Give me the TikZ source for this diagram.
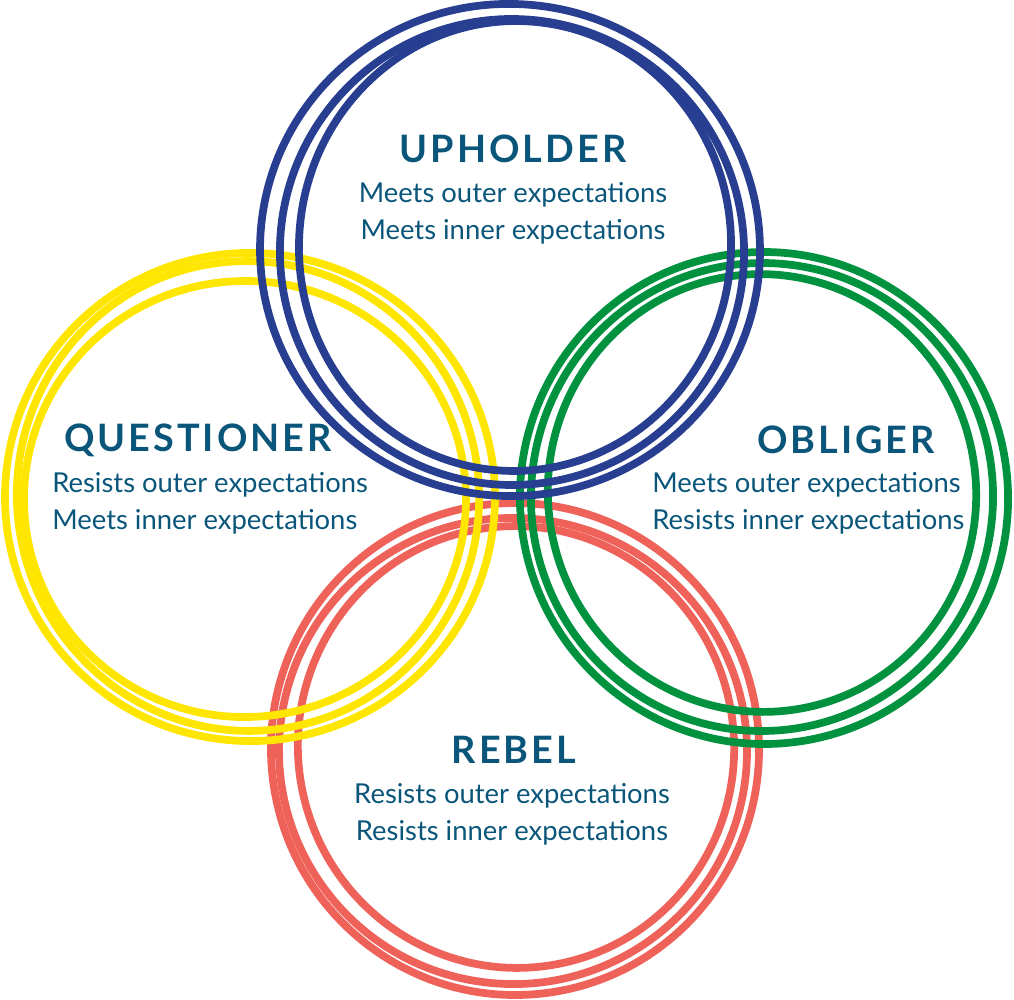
\documentclass[tikz,border=0pt]{standalone}
\usepackage{fontspec}
\setmainfont{Lato}
\usepackage{tikz}
\definecolor{ringblue}{RGB}{39, 62, 145}
\definecolor{ringyellow}{RGB}{255, 230, 0}
\definecolor{ringgreen}{RGB}{0, 146, 63}
\definecolor{ringred}{RGB}{238, 98, 90}
\definecolor{typeblue}{RGB}{10, 85, 122}
\usetikzlibrary{positioning}

\begin{document}
\begin{tikzpicture}[x=0.02cm, y=-0.02cm,
					ring/.style={line width=4.4pt},
					title/.style={font=\fontsize{21.5}{25}\selectfont\bfseries\addfontfeature{LetterSpace=8}, text=typeblue, inner sep=0pt},
					body/.style={font=\fontsize{15.6}{21}\selectfont, text=typeblue, inner sep=0pt}]
					%Bildbereich
					\useasboundingbox (0,0) rectangle (1014,1000);
					% Ringe: rot, gelb, gruen, blau (blau liegt oben)
					\foreach \cx/\cy/\rx/\ry/\rot in {515/749/244/246/6, 513/751/234/233/-10, 516/747/218/221/12}
						\draw[ring, ringred, rotate around={\rot:(\cx,\cy)}] (\cx,\cy) ellipse [x radius=\rx, y radius=\ry];
					\foreach \cx/\cy/\rx/\ry/\rot in {250/497/245/244/-8, 248/496/231/235/10, 245/499/221/218/4}
						\draw[ring, ringyellow, rotate around={\rot:(\cx,\cy)}] (\cx,\cy) ellipse [x radius=\rx, y radius=\ry];
					\foreach \cx/\cy/\rx/\ry/\rot in {764/498/244/246/8, 762/497/231/234/-6, 762/493/214/219/10}
						\draw[ring, ringgreen, rotate around={\rot:(\cx,\cy)}] (\cx,\cy) ellipse [x radius=\rx, y radius=\ry];
					\foreach \cx/\cy/\rx/\ry/\rot in {510/250/250/246/-6, 512/252/232/233/12, 515/246/216/225/-4}
						\draw[ring, ringblue, rotate around={\rot:(\cx,\cy)}] (\cx,\cy) ellipse [x radius=\rx, y radius=\ry];
					% Beschriftung
					\node[title] (upholder) at (513,149) {UPHOLDER};
					\node[body, anchor=north, align=center] (upholdertext) at (513,182) {Meets outer expectations\\Meets inner expectations};
					\node[title] (questioner) at (198,440) {QUESTIONER};
					\node[body, anchor=north west, align=left] (questionertext) at (52,472) {Resists outer expectations\\Meets inner expectations};
					\node[title] (obliger) at (846,440) {OBLIGER};
					\node[body, anchor=north west, align=left] (obligertext) at (652,472) {Meets outer expectations\\Resists inner expectations};
					\node[title] (rebel) at (514,750) {REBEL};
					\node[body, anchor=north, align=center] (rebeltext) at (512,783) {Resists outer expectations\\Resists inner expectations};
				\end{tikzpicture}
\end{document}
